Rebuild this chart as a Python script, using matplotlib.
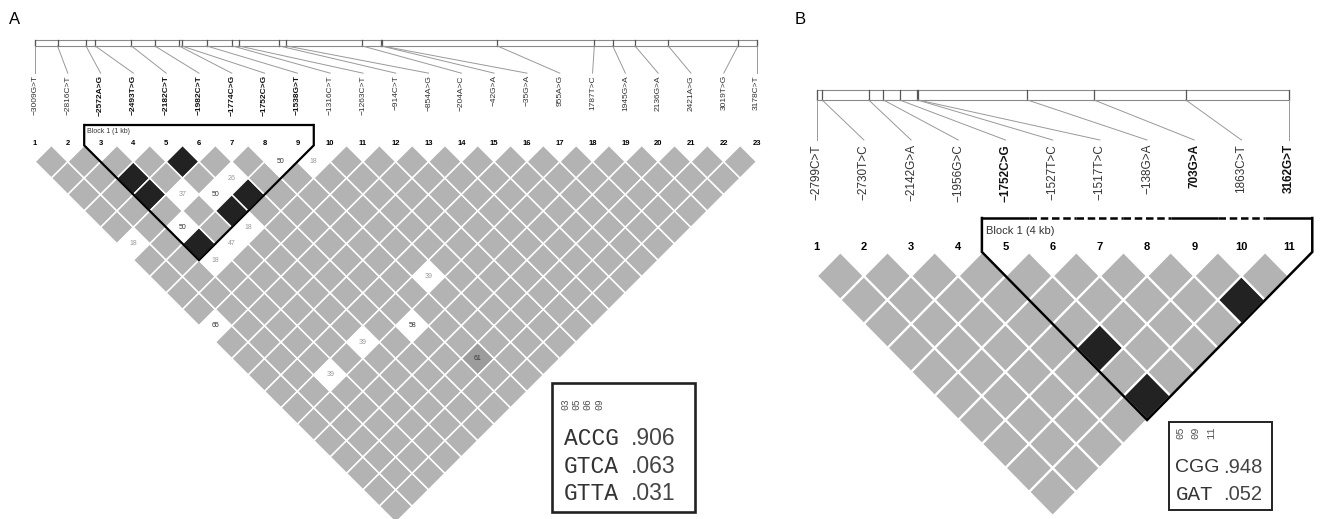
import numpy as np
import matplotlib.pyplot as plt
from matplotlib.collections import PolyCollection
from matplotlib.patches import Rectangle

############### panel A data ###############
a_labels = ['−3009G>T', '−2816C>T', '−2572A>G', '−2493T>G', '−2182C>T', '−1982C>T',
            '−1774C>G', '−1752C>G', '−1538G>T', '−1316C>T', '−1263C>T', '−914C>T',
            '−854A>G', '−204A>C', '−42G>A', '−35G>A', '955A>G', '1787T>C',
            '1945G>A', '2136G>A', '2421A>G', '3019T>G', '3178C>T']
a_pos = [-3009, -2816, -2572, -2493, -2182, -1982, -1774, -1752, -1538, -1316, -1263,
         -914, -854, -204, -42, -35, 955, 1787, 1945, 2136, 2421, 3019, 3178]
a_bold = [3, 4, 5, 6, 7, 8, 9]
a_black = [(3, 5), (3, 6), (5, 6), (3, 9), (5, 9), (6, 9)]
a_white = [(1, 7, 18), (4, 7, 37), (3, 8, 50), (5, 8, 50), (6, 8, 26), (8, 9, 50),
           (9, 10, 18), (5, 10, 18), (4, 10, 47), (3, 10, 18), (1, 12, 65),
           (3, 17, 39), (5, 17, 39), (9, 17, 39), (7, 18, 58)]
a_dark = [(8, 21, 61)]
a_block = (3, 9)
a_block_name = 'Block 1 (1 kb)'
a_tags = ['03', '05', '06', '09']
a_haps = ['ACCG', 'GTCA', 'GTTA']
a_freqs = ['.906', '.063', '.031']

############### panel B data ###############
b_labels = ['−2799C>T', '−2730T>C', '−2142G>A', '−1956G>C', '−1752C>G', '−1527T>C',
            '−1517T>C', '−138G>A', '703G>A', '1863C>T', '3162G>T']
b_pos = [-2799, -2730, -2142, -1956, -1752, -1527, -1517, -138, 703, 1863, 3162]
b_bold = [5, 9, 11]
b_black = [(5, 9), (5, 11), (9, 11)]
b_white = []
b_dark = []
b_block = (5, 11)
b_block_name = 'Block 1 (4 kb)'
b_tags = ['05', '09', '11']
b_haps = ['CGG', 'GAT']
b_freqs = ['.948', '.052']

GRAY = '#b3b3b3'
BLACK = '#222222'

lay_a = dict(rect=[0, 0, 790 / 1339, 1], xlim=(-0.067, 24.02), ylim=(-11.39, 4.43),
             bar=(3.03, 3.21), conn=2.20, lab=2.14, num=0.07, btop=0.62, blab=0.41,
             lab_fs=6, num_fs=5.5, cell_fs=5, blk_fs=5, edge=1.1, blk_lw=1.6,
             dashed=False, box=(16.76, -11.18, 4.36, 3.93), tag_x=17.16, tag_dx=0.345,
             tag_y=-7.7, tag_fs=7, hap_x=17.12, frq_x=19.17, hap_y=[-8.95, -9.80, -10.60],
             hap_fam=['Liberation Mono'] * 3, hap_fs=[16.5] * 3, frq_fs=16.5, box_lw=1.9)
lay_b = dict(rect=[790 / 1339, 0, 549 / 1339, 1], xlim=(0.434, 12.066), ylim=(-5.5625, 5.25),
             bar=(3.167, 3.375), conn=2.333, lab=2.25, num=0.104, btop=0.708, blab=0.44,
             lab_fs=8.5, num_fs=8, cell_fs=7, blk_fs=8, edge=1.6, blk_lw=1.8,
             dashed=True, box=(8.46, -5.375, 2.19, 1.835), tag_x=8.70, tag_dx=0.33,
             tag_y=-3.63, tag_fs=7.5, hap_x=8.60, frq_x=9.62, hap_y=[-4.48, -5.05],
             hap_fam=['Liberation Sans', 'Liberation Mono'], hap_fs=[14, 15], frq_fs=14.5,
             box_lw=1.4)


def draw_panel(ax, labels, pos, bold, black, white, dark, block, block_name,
               tags, haps, freqs, L):
    n = len(labels)
    ax.set_xlim(*L['xlim'])
    ax.set_ylim(*L['ylim'])
    ax.axis('off')

    # LD diamonds
    verts, colors = [], []
    special = {(i, j): BLACK for i, j in black}
    special.update({(i, j): 'white' for i, j, v in white})
    special.update({(i, j): '#9c9c9c' for i, j, v in dark})
    for i in range(1, n):
        for j in range(i + 1, n + 1):
            cx, cy = (i + j) / 2, -(j - i) / 2
            verts.append([(cx - 0.5, cy), (cx, cy + 0.5), (cx + 0.5, cy), (cx, cy - 0.5)])
            colors.append(special.get((i, j), GRAY))
    ax.add_collection(PolyCollection(verts, facecolors=colors, edgecolors='white',
                                     linewidths=L['edge']))
    for i, j, v in white + dark:
        col = '#333333' if v >= 50 else '#999999'
        ax.text((i + j) / 2, -(j - i) / 2, str(v), ha='center', va='center',
                fontsize=L['cell_fs'], color=col, family='Liberation Sans')

    # physical map bar, ticks and connectors
    pos = np.array(pos, dtype=float)
    gx = 1 + (pos - pos[0]) / (pos[-1] - pos[0]) * (n - 1)
    b0, b1 = L['bar']
    ax.add_patch(Rectangle((gx[0], b0), gx[-1] - gx[0], b1 - b0, fill=False,
                           edgecolor='#8a8a8a', lw=0.8))
    for k in range(n):
        ax.plot([gx[k], gx[k]], [b0, b1], color='#555555', lw=0.9)
        ax.plot([gx[k], k + 1], [b0, L['conn']], color='#999999', lw=0.7)
        ax.text(k + 1, L['lab'], labels[k], rotation=90, ha='center', va='top',
                fontsize=L['lab_fs'], family='Liberation Sans',
                fontweight='bold' if k + 1 in bold else 'normal',
                color='#111111' if k + 1 in bold else '#333333')
        ax.text(k + 1, L['num'], str(k + 1), ha='center', va='center',
                fontsize=L['num_fs'], fontweight='bold', family='Liberation Sans')

    # block outline
    s, e = block
    left, right = s - 0.5, e + 0.5
    bottom = -(e - s + 1) / 2
    ax.plot([left, left, (s + e) / 2, right, right],
            [L['btop'], 0, bottom, 0, L['btop']], color='black', lw=L['blk_lw'],
            solid_joinstyle='miter')
    tag_idx = [int(t) for t in tags]
    for k in range(s, e + 1):
        solid = (k in tag_idx) or not L['dashed']
        ax.plot([k - 0.5, k + 0.5], [L['btop'], L['btop']], color='black',
                lw=L['blk_lw'], linestyle='-' if solid else (0, (3, 1.5)),
                solid_capstyle='butt')
    ax.text(left + 0.08, L['blab'], block_name, ha='left', va='center',
            fontsize=L['blk_fs'], color='#333333', family='Liberation Sans')

    # haplotype box
    bx, by, bw, bh = L['box']
    ax.add_patch(Rectangle((bx, by), bw, bh, fill=False, edgecolor='#222222',
                           lw=L['box_lw']))
    for k, t in enumerate(tags):
        ax.text(L['tag_x'] + k * L['tag_dx'], L['tag_y'], t, rotation=90, ha='center',
                va='top', fontsize=L['tag_fs'], family='Liberation Mono', color='#555555')
    for k, (h, f) in enumerate(zip(haps, freqs)):
        ax.text(L['hap_x'], L['hap_y'][k], h, ha='left', va='center',
                fontsize=L['hap_fs'][k], family=L['hap_fam'][k], color='#333333')
        ax.text(L['frq_x'], L['hap_y'][k], f, ha='left', va='center',
                fontsize=L['frq_fs'], family='Liberation Sans', color='#444444')


fig = plt.figure(figsize=(13.39, 5.19), dpi=100)
ax_a = fig.add_axes(lay_a['rect'])
ax_b = fig.add_axes(lay_b['rect'])
draw_panel(ax_a, a_labels, a_pos, a_bold, a_black, a_white, a_dark, a_block,
           a_block_name, a_tags, a_haps, a_freqs, lay_a)
draw_panel(ax_b, b_labels, b_pos, b_bold, b_black, b_white, b_dark, b_block,
           b_block_name, b_tags, b_haps, b_freqs, lay_b)
fig.text(15 / 1339, 1 - 20 / 519, 'A', fontsize=12, ha='center', va='center',
         family='Liberation Sans')
fig.text(800 / 1339, 1 - 20 / 519, 'B', fontsize=12, ha='center', va='center',
         family='Liberation Sans')
fig.savefig('out.png', dpi=100)
